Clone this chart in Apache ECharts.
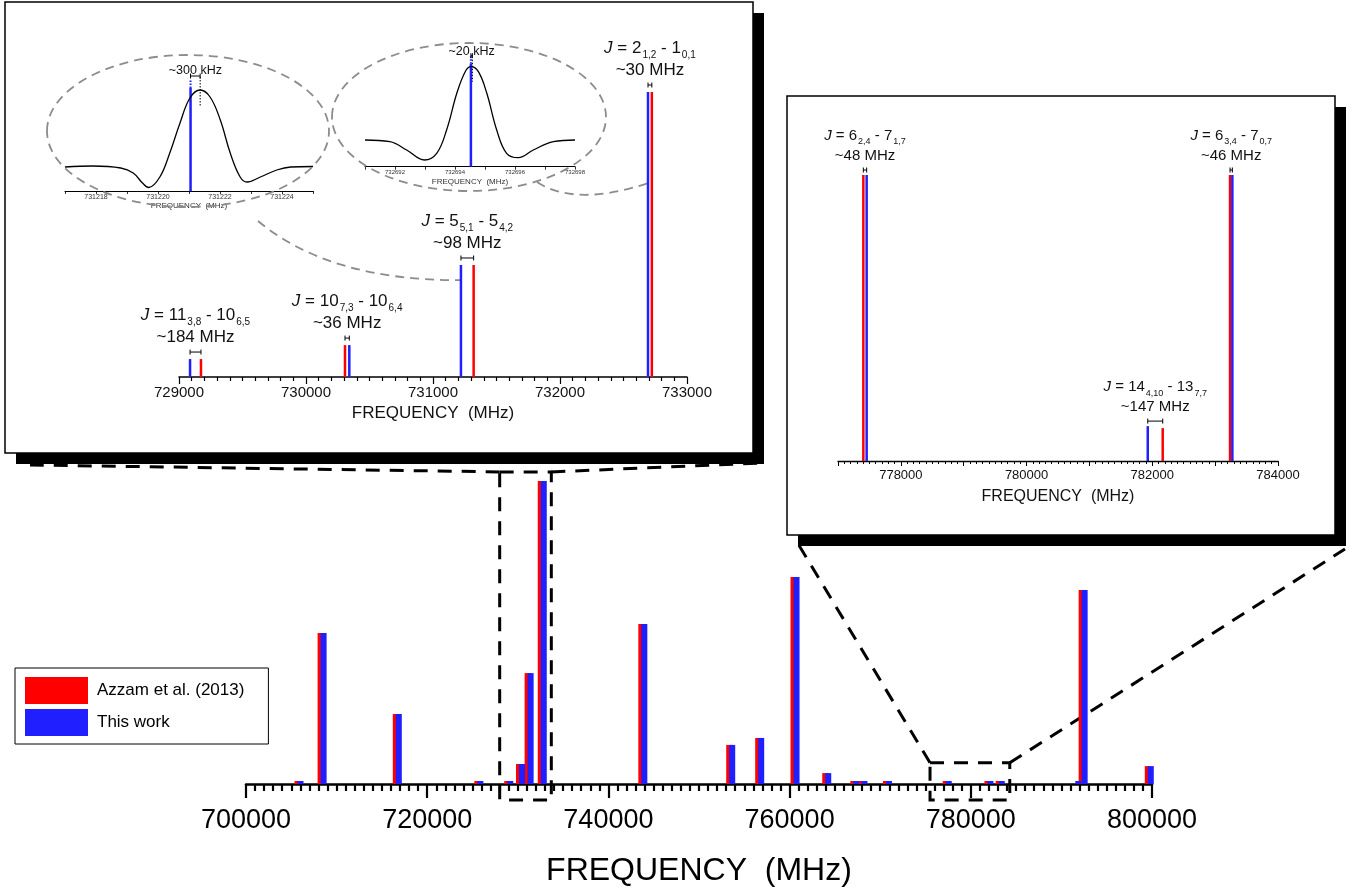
<!DOCTYPE html>
<html>
<head>
<meta charset="utf-8">
<script src="https://cdn.jsdelivr.net/npm/echarts@6/dist/echarts.min.js"></script>
<style>
html, body { margin: 0; padding: 0; background: #fff; }
#chart { width: 1358px; height: 890px; }
</style>
</head>
<body>
<div id="chart"></div>
<script>
// full spectrum: line positions (MHz) and relative intensities
var mainFreq = [705850, 708400, 716700, 725700, 729000, 730300, 731250, 732700, 743800, 753500, 756700, 760600,
                764100, 767200, 768100, 770800, 777400, 782000, 783250, 791700, 792400, 799700];
var azzamInt = [1, 49.8, 23.1, 1, 1, 6.6, 36.6, 100, 52.8, 12.9, 15.2, 68.3, 3.6, 1, 1, 1, 1, 1, 1, 0, 64, 5.9];
var thisInt  = [1, 49.8, 23.1, 1, 1, 6.6, 36.6, 100, 52.8, 12.9, 15.2, 68.3, 3.6, 1, 1, 1, 1, 1, 1, 1, 64, 5.9];
var mainRange = [700000, 800000, 20000];

// zoom A (729-733 GHz)
var zoomAAzzam = [729173, 730307, 731320, 732723];
var zoomAThis  = [729087, 730341, 731220, 732693];
var zoomAHeight = [6.3, 11.2, 39.3, 100];
var zoomALabel = ['{i|J} = 11{s|3,8} - 10{s|6,5}', '{i|J} = 10{s|7,3} - 10{s|6,4}', '{i|J} = 5{s|5,1} - 5{s|4,2}', '{i|J} = 2{s|1,2} - 1{s|0,1}'];
var zoomADiff  = ['~184 MHz', '~36 MHz', '~98 MHz', '~30 MHz'];
var zoomARange = [729000, 733000, 1000];

// zoom B (777-784 GHz)
var zoomBAzzam = [777403, 782166, 783237];
var zoomBThis  = [777456, 781928, 783274];
var zoomBAzzamH = [100, 11.5, 100];
var zoomBThisH  = [100, 12.2, 100];
var zoomBLabel = ['{i|J} = 6{s|2,4} - 7{s|1,7}', '{i|J} = 14{s|4,10} - 13{s|7,7}', '{i|J} = 6{s|3,4} - 7{s|0,7}'];
var zoomBDiff  = ['~48 MHz', '~147 MHz', '~46 MHz'];
var zoomBRange = [777000, 784000, 1000];

// measured line profiles
var peakAFreq = [731217.0, 731217.9, 731218.8, 731219.2, 731219.5, 731219.7, 731220.06, 731220.38, 731220.71, 731221.03,
                 731221.36, 731221.68, 731222.01, 731222.33, 731222.65, 731222.87, 731223.3, 731223.83, 731224.28, 731225.0];
var peakAInt  = [24, 25, 23, 18, 8, 3.5, 14, 38, 68, 93, 101, 94, 71, 38, 14, 9, 14, 21, 24, 24.5];
var peakAThis = 731221.05, peakAMax = 731221.36, peakAHeight = 103;
var peakARange = [731217, 731225, 1];

var peakBFreq = [732691.0, 732691.83, 732692.39, 732692.98, 732693.39, 732693.72, 732694.06, 732694.34, 732694.53,
                 732694.78, 732695.06, 732695.39, 732695.72, 732696.11, 732696.61, 732697.28, 732698.0];
var peakBInt  = [26.7, 25, 16.7, 6.7, 13.4, 36.7, 73.4, 95, 100, 95, 73.4, 36.7, 13.4, 9, 16.7, 25, 26.7];
var peakBThis = 732694.53, peakBMax = 732694.58, peakBHeight = 103;
var peakBRange = [732691, 732698, 1];

var RED = '#ff0000', BLUE = '#1f1fff';
var FONT = '"Liberation Sans", Arial, sans-serif';

function pairs(xs, ys) {
	return xs.map(function(x, i) { return [x, ys[i]]; });
}
function evenOnly(step) {
	return function(v) { return Math.round(v / step) % 2 === 0 ? String(v) : ''; };
}
function freqAxis(grid, range, o) {
	return {
		type: 'value', gridIndex: grid, min: range[0], max: range[1], interval: range[2],
		axisLine: {show: true, onZero: false, lineStyle: {color: '#000', width: o.lw}},
		axisTick: {show: true, inside: false, length: o.tick, lineStyle: {color: '#000', width: o.tw}},
		minorTick: {show: o.minor > 0, splitNumber: o.minor || 5, length: o.minorLen, lineStyle: {color: '#000', width: o.tw}},
		splitLine: {show: false}, minorSplitLine: {show: false},
		axisLabel: {fontSize: o.fs, color: o.color || '#000', margin: o.margin, fontFamily: FONT, formatter: o.fmt || function(v) { return String(v); }},
		name: 'FREQUENCY  (MHz)', nameLocation: 'middle', nameGap: o.gap,
		nameTextStyle: {fontSize: o.nfs, color: o.color || '#000', fontFamily: FONT}
	};
}
function hiddenY(grid, max) {
	return {type: 'value', gridIndex: grid, min: 0, max: max, show: false};
}

var option = {
	animation: false,
	textStyle: {fontFamily: FONT},
	legend: {
		data: ['Azzam et al. (2013)', 'This work'],
		orient: 'vertical', left: 15, top: 668, icon: 'rect',
		itemWidth: 63, itemHeight: 27, itemGap: 5,
		padding: [9, 24, 8, 10],
		borderColor: '#000', borderWidth: 1,
		textStyle: {fontSize: 17, color: '#000', padding: [0, 0, 0, 4]}
	},
	grid: [
		{left: 246, width: 906, top: 481, height: 303},
		{left: 179, width: 508, top: 92, height: 285},
		{left: 838, width: 440, top: 175, height: 286},
		{left: 65, width: 248, top: 79, height: 112},
		{left: 365, width: 210, top: 56.7, height: 110}
	],
	xAxis: [
		freqAxis(0, mainRange, {lw: 2.5, tw: 2.2, tick: 14, minor: 20, minorLen: 7, fs: 27, margin: 23, gap: 71, nfs: 32}),
		freqAxis(1, zoomARange, {lw: 1.5, tw: 1.2, tick: 7, minor: 10, minorLen: 4, fs: 15, margin: 8, gap: 28, nfs: 17, color: '#111'}),
		freqAxis(2, zoomBRange, {lw: 1.3, tw: 1, tick: 5, minor: 10, minorLen: 3, fs: 13, margin: 8, gap: 28, nfs: 16, color: '#111', fmt: evenOnly(1000)}),
		freqAxis(3, peakARange, {lw: 1, tw: 0.8, tick: 3, minor: 0, minorLen: 2, fs: 7, margin: 3, gap: 11, nfs: 8, color: '#333', fmt: evenOnly(1)}),
		freqAxis(4, peakBRange, {lw: 1, tw: 0.8, tick: 3, minor: 0, minorLen: 2, fs: 6, margin: 3, gap: 11, nfs: 8, color: '#333', fmt: evenOnly(1)})
	],
	yAxis: [hiddenY(0, 100), hiddenY(1, 100), hiddenY(2, 100), hiddenY(3, 112), hiddenY(4, 110)],
	series: [
		{type: 'bar', name: 'Azzam et al. (2013)', xAxisIndex: 0, yAxisIndex: 0, data: pairs(mainFreq, azzamInt),
			barWidth: 6, barGap: '-50%', itemStyle: {color: RED}, silent: true},
		{type: 'bar', name: 'This work', xAxisIndex: 0, yAxisIndex: 0, data: pairs(mainFreq, thisInt),
			barWidth: 6, barGap: '-50%', itemStyle: {color: BLUE}, silent: true},
		{type: 'bar', name: 'Azzam et al. (2013)', xAxisIndex: 1, yAxisIndex: 1, data: pairs(zoomAAzzam, zoomAHeight),
			barWidth: 2.5, barGap: '-100%', itemStyle: {color: RED}, silent: true},
		{type: 'bar', name: 'This work', xAxisIndex: 1, yAxisIndex: 1, data: pairs(zoomAThis, zoomAHeight),
			barWidth: 2.5, barGap: '-100%', itemStyle: {color: BLUE}, silent: true},
		{type: 'bar', name: 'Azzam et al. (2013)', xAxisIndex: 2, yAxisIndex: 2, data: pairs(zoomBAzzam, zoomBAzzamH),
			barWidth: 2.5, barGap: '-100%', itemStyle: {color: RED}, silent: true},
		{type: 'bar', name: 'This work', xAxisIndex: 2, yAxisIndex: 2, data: pairs(zoomBThis, zoomBThisH),
			barWidth: 2.5, barGap: '-100%', itemStyle: {color: BLUE}, silent: true},
		{type: 'line', xAxisIndex: 3, yAxisIndex: 3, data: pairs(peakAFreq, peakAInt), smooth: 0.4, symbol: 'none',
			lineStyle: {color: '#000', width: 1.3}, silent: true},
		{type: 'bar', xAxisIndex: 3, yAxisIndex: 3, data: [[peakAThis, peakAHeight]], barWidth: 2.5,
			itemStyle: {color: BLUE}, silent: true},
		{type: 'line', xAxisIndex: 4, yAxisIndex: 4, data: pairs(peakBFreq, peakBInt), smooth: 0.4, symbol: 'none',
			lineStyle: {color: '#000', width: 1.3}, silent: true},
		{type: 'bar', xAxisIndex: 4, yAxisIndex: 4, data: [[peakBThis, peakBHeight]], barWidth: 2.5,
			itemStyle: {color: BLUE}, silent: true}
	]
};

var chart = echarts.init(document.getElementById('chart'));
chart.setOption(option);

function px(g, x, y) { return chart.convertToPixel({gridIndex: g}, [x, y]); }

var g = [];
var dashBlack = {stroke: '#000', lineWidth: 3, lineDash: [14, 10], fill: null};
var dashGrey = {stroke: '#8c8c8c', lineWidth: 1.8, lineDash: [9, 6], fill: null};

function line(x1, y1, x2, y2, style, z) {
	g.push({type: 'line', z: z || 1, shape: {x1: x1, y1: y1, x2: x2, y2: y2}, style: style});
}
function box(x, y, w, h) {
	g.push({type: 'rect', z: -3, shape: {x: x + 11, y: y + 11, width: w, height: h}, style: {fill: '#000'}});
	g.push({type: 'rect', z: -2, shape: {x: x, y: y, width: w, height: h}, style: {fill: '#fff', stroke: '#000', lineWidth: 1.5}});
}
function errBar(xa, xb, y) {
	var s = {stroke: '#000', lineWidth: 1};
	line(Math.min(xa, xb), y, Math.max(xa, xb), y, s, 3);
	line(xa, y - 2.5, xa, y + 2.5, s, 3);
	line(xb, y - 2.5, xb, y + 2.5, s, 3);
}
function label(x, y, txt, fs, sub) {
	g.push({type: 'text', z: 3, x: x, y: y, style: {
		text: txt, fill: '#111', fontSize: fs, fontFamily: FONT,
		align: 'center', verticalAlign: 'middle', textAlign: 'center', textVerticalAlign: 'middle',
		rich: {
			i: {fontSize: fs, fontFamily: FONT, fontStyle: 'italic', fill: '#111'},
			s: {fontSize: sub, fontFamily: FONT, fill: '#111', padding: [Math.round(fs * 0.8), 0, 0, 1]}
		}
	}});
}

// inset frames
box(5, 2, 748, 451);
box(787, 96, 548, 439);

// dashed zoom marks on the full spectrum
var axisY = px(0, 700000, 0)[1];
function zoomMark(f1, f2, top, toL, toR) {
	var a = px(0, f1, top), b = px(0, f2, top);
	g.push({type: 'rect', z: -4, shape: {x: a[0], y: a[1], width: b[0] - a[0], height: axisY + 16 - a[1]}, style: dashBlack});
	line(a[0], a[1], toL[0], toL[1], dashBlack, -4);
	line(b[0], b[1], toR[0], toR[1], dashBlack, -4);
}
zoomMark(728000, 733700, 103, [30, 465], [762, 463]);
zoomMark(775500, 784300, 7, [797, 542], [1345, 549]);

// pair labels, zoom A
zoomAThis.forEach(function(f, i) {
	var b = px(1, f, zoomAHeight[i]), r = px(1, zoomAAzzam[i], zoomAHeight[i]);
	var xm = (b[0] + r[0]) / 2, top = Math.min(b[1], r[1]);
	errBar(b[0], r[0], top - 7);
	label(xm, top - 22, zoomADiff[i], 17, 10);
	label(xm, top - 44, zoomALabel[i], 17, 10);
});
// pair labels, zoom B
zoomBThis.forEach(function(f, i) {
	var b = px(2, f, zoomBThisH[i]), r = px(2, zoomBAzzam[i], zoomBAzzamH[i]);
	var xm = (b[0] + r[0]) / 2, top = Math.min(b[1], r[1]);
	errBar(b[0], r[0], top - 5);
	label(xm, top - 19, zoomBDiff[i], 15, 9);
	label(xm, top - 39, zoomBLabel[i], 15, 9);
});

// magnifier ellipses and their tails
g.push({type: 'ellipse', z: 1, shape: {cx: 188, cy: 131, rx: 141, ry: 76}, style: dashGrey});
g.push({type: 'ellipse', z: 1, shape: {cx: 469, cy: 117, rx: 137, ry: 74}, style: dashGrey});
var e5 = px(1, zoomAThis[2], 34), e2 = px(1, zoomAThis[3], 68);
g.push({type: 'bezierCurve', z: 1, shape: {x1: 258, y1: 221, cpx1: 330, cpy1: 281, x2: e5[0], y2: e5[1]}, style: dashGrey});
g.push({type: 'bezierCurve', z: 1, shape: {x1: 537, y1: 182, cpx1: 575, cpy1: 207, x2: e2[0], y2: e2[1]}, style: dashGrey});

// profile annotations
function profileMarks(gi, fThis, fMax, hThis, topDot, botDot, barV, txtV, txt) {
	var t0 = px(gi, fThis, hThis), t1 = px(gi, fThis, hThis + 8);
	line(t0[0], t0[1], t1[0], t1[1], {stroke: BLUE, lineWidth: 2, lineDash: [1.5, 1.5]}, 3);
	var d0 = px(gi, fMax, topDot), d1 = px(gi, fMax, botDot);
	line(d0[0], d0[1], d1[0], d1[1], {stroke: '#000', lineWidth: 1, lineDash: [1.5, 1.5]}, 3);
	var eb = px(gi, fThis, barV)[1];
	errBar(t0[0], d0[0], eb);
	var tp = px(gi, (fThis + fMax) / 2, txtV);
	g.push({type: 'text', z: 3, x: tp[0], y: tp[1], style: {text: txt, fill: '#111', fontSize: 12.5, fontFamily: FONT,
		align: 'center', verticalAlign: 'middle', textAlign: 'center', textVerticalAlign: 'middle'}});
}
profileMarks(3, peakAThis, peakAMax, peakAHeight, 114, 85, 115, 120, '~300 kHz');
profileMarks(4, peakBThis, peakBMax, peakBHeight, 107, 85, 111, 115, '~20 kHz');

chart.setOption({graphic: {elements: g}});
</script>
</body>
</html>
